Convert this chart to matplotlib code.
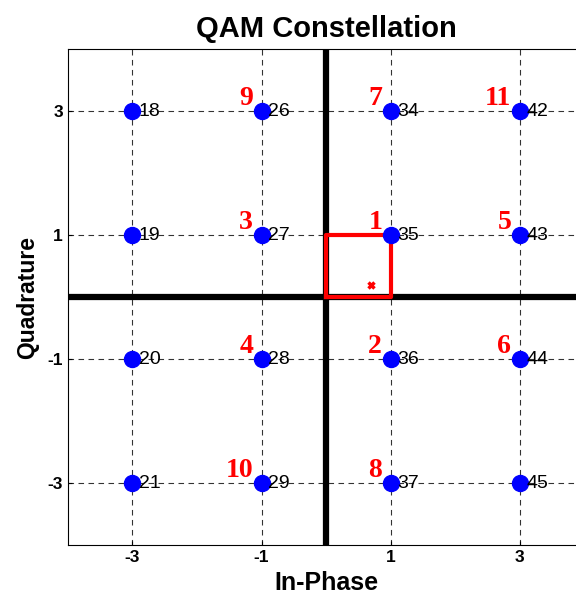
import matplotlib
matplotlib.use("Agg")
import matplotlib.pyplot as plt

plt.rcParams['font.family'] = ['Liberation Sans', 'DejaVu Sans']
plt.rcParams['axes.unicode_minus'] = False

# constellation points (column by column)
pt_i = [-3, -3, -3, -3, -1, -1, -1, -1, 1, 1, 1, 1, 3, 3, 3, 3]
pt_q = [3, 1, -1, -3, 3, 1, -1, -3, 3, 1, -1, -3, 3, 1, -1, -3]
pt_ids = ['18', '19', '20', '21', '26', '27', '28', '29',
          '34', '35', '36', '37', '42', '43', '44', '45']

# red order numbers
ord_i = [1, 1, -1, -1, 3, 3, 1, 1, -1, -1, 3]
ord_q = [1, -1, 1, -1, 1, -1, 3, -3, 3, -3, 3]
ord_lbl = ['1', '2', '3', '4', '5', '6', '7', '8', '9', '10', '11']

# received sample and its decision box
rx_i, rx_q = 0.7, 0.2
box_i = [0, 1, 1, 0, 0]
box_q = [0, 0, 1, 1, 0]

ticks = [-3, -1, 1, 3]

fig = plt.figure(figsize=(5.76, 6.01), dpi=100)
ax = fig.add_axes([0.118, 0.093, 0.896, 0.825])

ax.set_xlim(-4, 4)
ax.set_ylim(-4, 4)
ax.set_xticks(ticks)
ax.set_yticks(ticks)
ax.grid(True, linestyle=(0, (5, 4)), color='black', linewidth=0.8, alpha=0.8)
ax.tick_params(direction='in', length=3, labelsize=12.5)
for lbl in ax.get_xticklabels() + ax.get_yticklabels():
    lbl.set_fontweight('bold')

ax.axhline(0, color='black', linewidth=4.5, zorder=2)
ax.axvline(0, color='black', linewidth=4.5, zorder=2)

ax.plot(box_i, box_q, color='red', linewidth=3, zorder=3)
ax.plot(rx_i, rx_q, marker='x', color='red', markersize=5, markeredgewidth=2.5, zorder=4)

ax.plot(pt_i, pt_q, 'o', color='blue', markersize=11.5, linestyle='none', zorder=4)

for x, y, s in zip(pt_i, pt_q, pt_ids):
    ax.text(x + 0.1, y, s, fontsize=14, ha='left', va='center', zorder=5)

for x, y, s in zip(ord_i, ord_q, ord_lbl):
    ax.annotate(s, (x, y), xytext=(-6, 4.5), textcoords='offset points',
                ha='right', va='baseline', color='red', fontsize=20,
                fontweight='bold', family='Liberation Serif', zorder=5)

ax.set_title('QAM Constellation', fontsize=21, fontweight='bold', pad=9)
ax.set_xlabel('In-Phase', fontsize=18, fontweight='bold', labelpad=4)
ax.set_ylabel('Quadrature', fontsize=16.5, fontweight='bold', labelpad=6)

fig.savefig('out.png', dpi=100)
